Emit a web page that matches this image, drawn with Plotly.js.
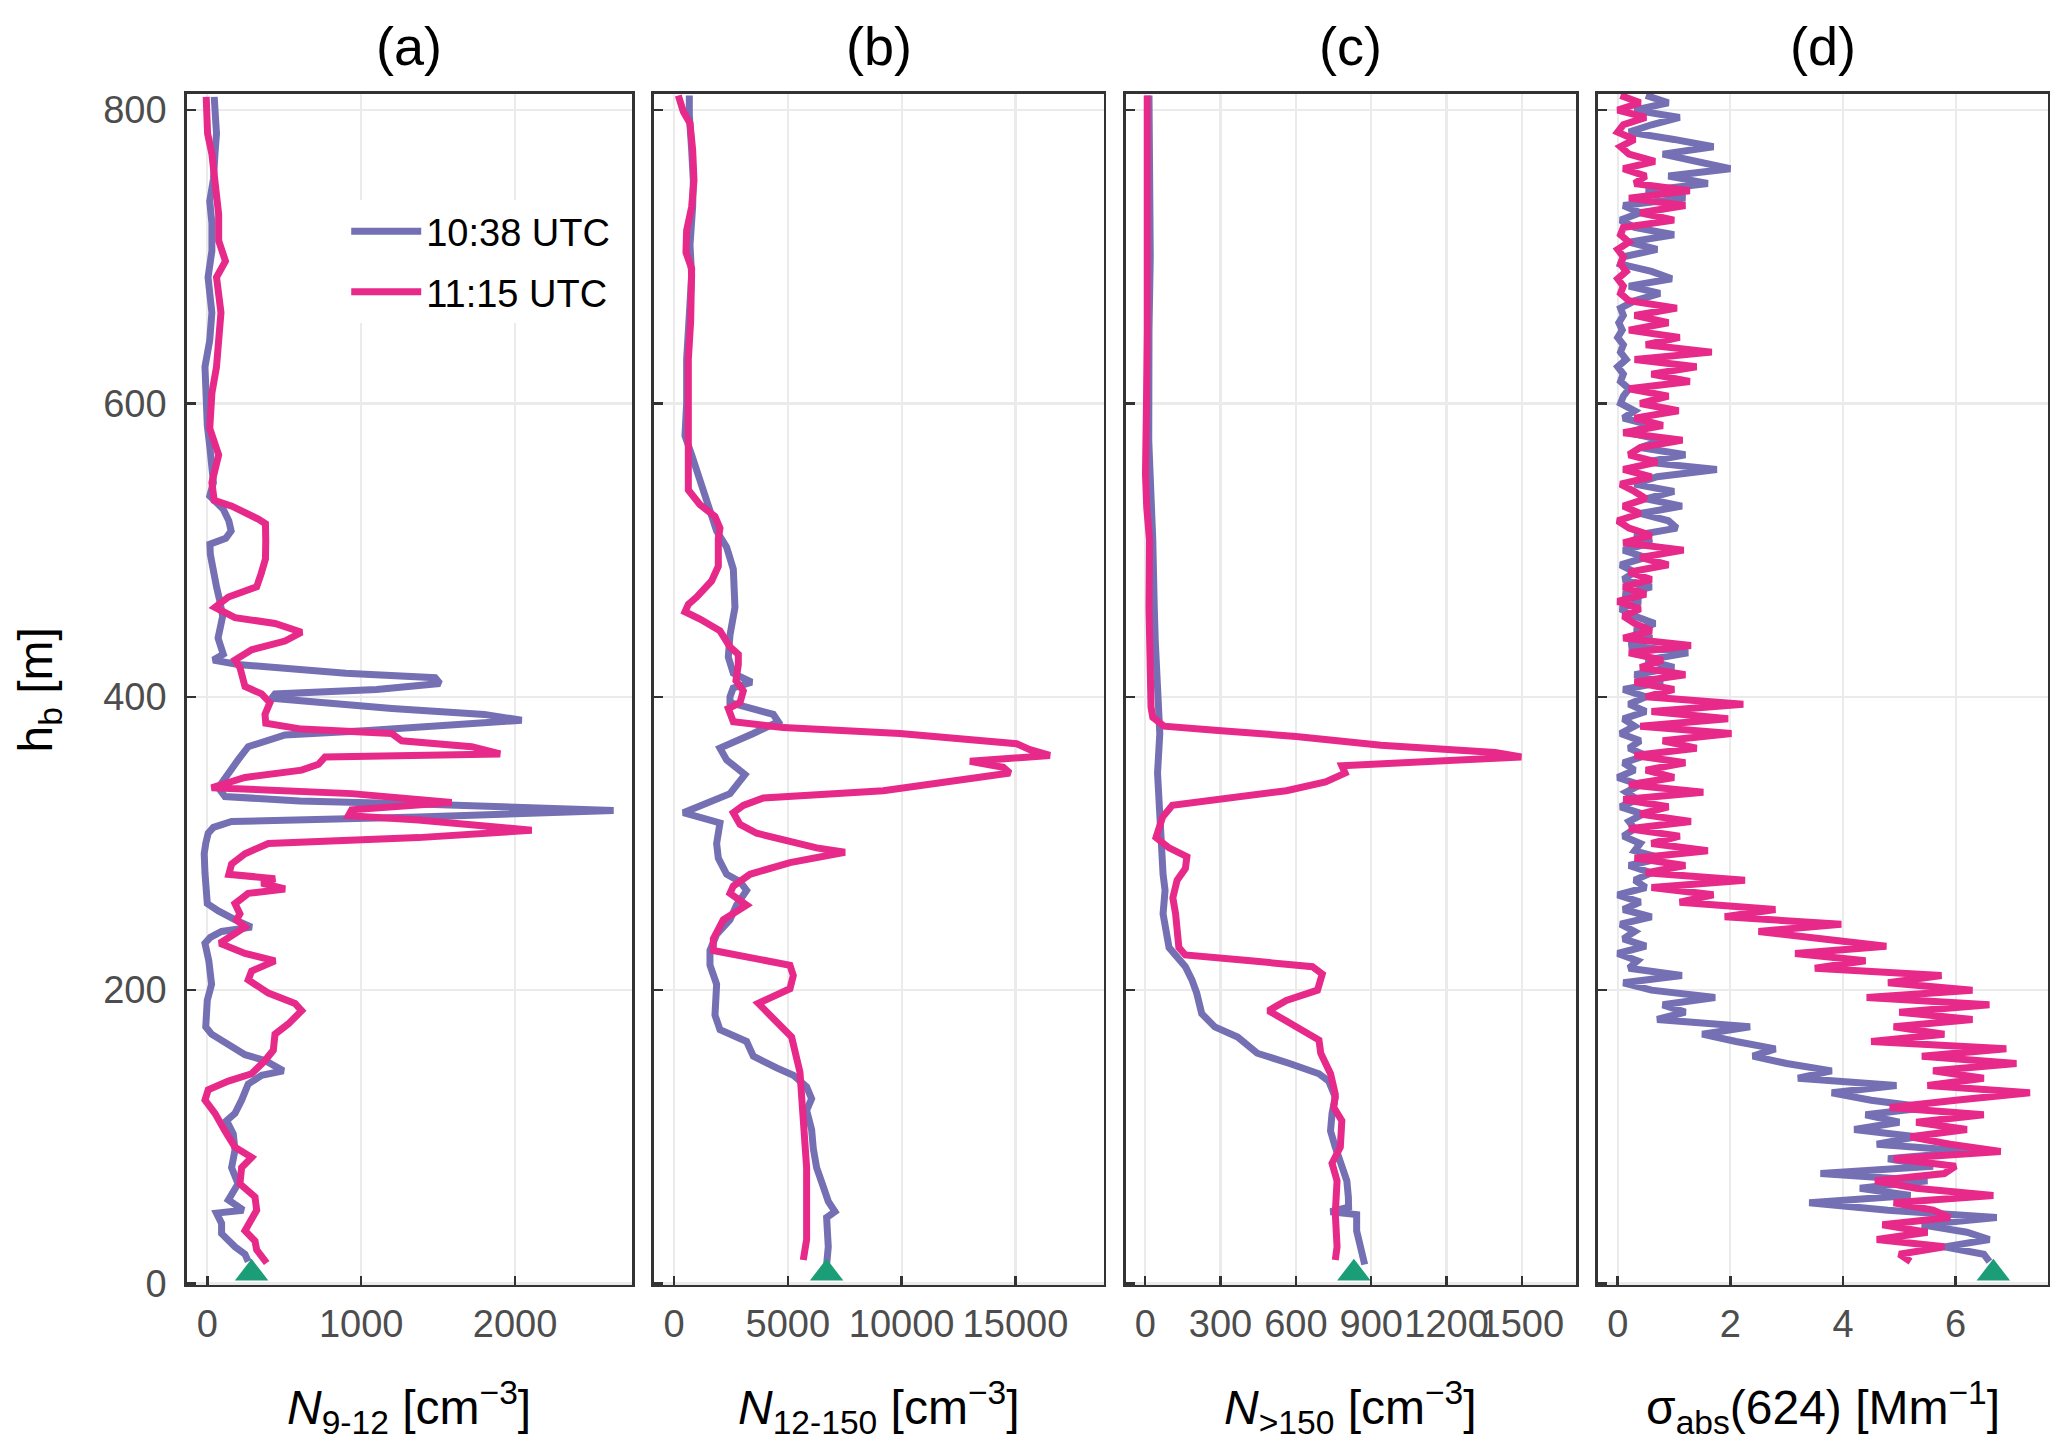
<!DOCTYPE html>
<html>
<head>
<meta charset="utf-8">
<script src="https://cdn.plot.ly/plotly-3.0.1.min.js"></script>
<style>
  html, body { margin: 0; padding: 0; background: #fff; }
  #chart { width: 2067px; height: 1450px; }
</style>
</head>
<body>
<div id="chart"></div>
<script>
// 시리즈 이름과 색
const seriesNames = ["10:38 UTC", "11:15 UTC"];
const seriesColors = ["#7570b3", "#e7298a"];
const groundColor = "#1b9e77";

// (a) N9-12
const altA1038 = [809,795,784,770,753,738,723,704,686,662,643,625,601,585,571,556,546,537,528,520,513,508,504,497,486,475,466,455,440,429,425,422,416,413,409,405,402,399,392,388,384,380,377,374,366,357,348,338,332,329,327,322.5,318,315,311,307,300,293,280,270,259,254,249,247,243,240,236,232,220,204,193,183,175,170,163,156,152,145,142,136,125,116,111,102,91,79,68,57,50,48,41,34,25,20,15];
const valA1038 = [45,55,60,50,40,16,30,30,5,30,16,-15,-12,0,16,30,40,16,103,140,155,120,17,20,35,60,80,100,70,104,39,200,900,1480,1512,1100,440,418,1200,1800,2043,1500,1047,505,266,200,137,72,115,600,1372,2640,1372,158,40,6,-10,-20,-15,-10,0,72,158,200,288,93,20,-15,10,28,0,-5,-10,28,137,245,375,494,353,266,223,180,126,169,180,158,200,137,234,60,93,93,180,245,266];
const altA1115 = [809,784,770,753,729,711,697,686,662,643,625,607,583,565,546,534,530,521,518,506,494,484,479,475,468,461,454,450,444,438,432,425,420,407,402,396,388,382,378,375,370,366,361,359,354,350,345,338,334,328,323,319,316,309,304,300,293,286,279,276,273,269,266,259,252,248,243,232,225,220,213,207,198,191,186,177,170,159,152,143,138,132,125,116,104,93,86,79,68,59,50,43,36,29,23,14];
const valA1115 = [-7,2,30,45,74,74,118,60,89,74,60,30,16,74,30,45,160,334,378,380,378,350,334,321,137,50,180,440,613,505,288,180,212,245,353,407,375,380,613,1198,1263,1718,1903,765,722,613,245,28,938,1588,938,917,1372,2108,1372,397,245,158,140,440,353,505,266,180,212,190,245,82,245,440,288,266,397,570,613,527,440,429,375,288,137,6,-15,50,115,180,288,223,212,310,321,288,245,310,321,386];

// (b) N12-150
const altB1038 = [810,797,773,752,734,708,687,656,630,600,578,565,552,531,513,502,487,461,442,427,416,410,406,400,396,388,383,375,365,357,347,334,326,321,314,300,290,279,274,268,258,248,238,227,217,204,183,173,165,155,147,142,134,126,118,105,92,79,66,56,49,45,25,12];
const valB1038 = [673,673,776,849,820,703,776,673,556,556,483,776,1069,1508,1874,2313,2606,2679,2460,2386,2606,3411,2600,2460,2460,4363,4582,3484,2020,2313,3118,2460,1288,410,2020,1874,1947,2313,2899,3191,2752,2460,1874,1581,1581,1874,1801,2020,3191,3484,4509,5241,5827,6046,5827,6046,6120,6266,6559,6778,7071,6705,6778,6700];
const altB1115 = [810,799,791,773,752,734,718,703,692,682,656,630,600,565,541,531,523,515,508,489,479,468,463,458,453,445,434,429,422,411,404,396,392,383,379,375,368,364,360,356,352,348,342,336,331,326,321,313,307,303,297,294,287,279,271,266,258,248,235,227,222,217,210,201,191,180,168,144,131,105,79,53,30,16];
const valB1115 = [190,410,703,820,878,776,556,527,776,776,732,630,630,586,630,1142,1801,2020,1947,1947,1654,996,630,483,1142,2020,2460,2826,2826,2723,3045,2899,2386,2606,4802,9926,15050,15636,16514,13000,14464,14757,12122,9194,3924,3045,2606,2899,3631,4656,6266,7510,5095,3338,2606,2460,3191,2167,1728,1728,3338,5095,5241,5095,3704,4363,5168,5534,5607,5754,5827,5827,5827,5680];

// (c) N>150
const altC1038 = [810,750,700,650,600,575,507,484,461,438,416,393,375,348,325,302,279,268,252,229,216,207,198,184,175,168,161,157,150,143,138,127,116,104,93,82,70,59,52,49,47,36,25,13];
const valC1038 = [15,20,20,15,12,14,30,36,36,40,45,53,58,49,56,58,71,79,71,95,160,186,205,225,277,368,413,446,575,692,731,757,744,738,757,777,803,809,810,738,842,842,855,874];
const altC1115 = [810,750,700,650,600,575,552,529,507,461,438,416,393,386,380,377,373,367,362,359,355,353,348,342,336,330,326,318,304,297,291,283,275,263,252,229,224,220,216,211,200,193,186,179,173,166,157,143,129,120,111,93,82,70,48,25,16];
const valC1115 = [8,10,12,8,5,0,1,6,17,15,17,23,23,30,75,290,601,939,1394,1498,939,783,796,718,562,290,108,69,43,95,166,160,127,110,121,134,160,420,666,705,686,562,491,562,627,692,699,738,757,751,783,777,744,764,757,764,757];

// (d) sigma_abs(624), 5 m 간격
const altD = [810,805,800,795,790,785,780,775,770,765,760,755,750,745,740,735,730,725,720,715,710,705,700,695,690,685,680,675,670,665,660,655,650,645,640,635,630,625,620,615,610,605,600,595,590,585,580,575,570,565,560,555,550,545,540,535,530,525,520,515,510,505,500,495,490,485,480,475,470,465,460,455,450,445,440,435,430,425,420,415,410,405,400,395,390,385,380,375,370,365,360,355,350,345,340,335,330,325,320,315,310,305,300,295,290,285,280,275,270,265,260,255,250,245,240,235,230,225,220,215,210,205,200,195,190,185,180,175,170,165,160,155,150,145,140,135,130,125,120,115,110,105,100,95,90,85,80,75,70,65,60,55,50,45,40,35,30,25,20,15];
const valD1038 = [0.5,0.9,0.3,1.1,0.6, 0.2,1.0,1.7,0.8, 1.4,2.0,0.9, 1.6,0.5,1.2, 0.1,0.4,0.05,0.3, 1.0,0.2,0.7, 0.1,0.05, 0.6,0.96,0.2,0.75,0.3, 0.05,0.1,0.02,0.08,0.0,0.1,0.05,0.15,0.0,0.1,0.05,0.2,0.1,0.05, 0.3,0.1,0.6,0.2,0.8,0.4,1.2,0.5, 1.76,0.7,0.3,1.0,0.5,1.14,0.4,0.9, 1.05,0.3,0.6, 0.1,0.5,0.05,0.3,0.1, 0.6,0.1,0.4,0.05,0.3, 0.66,0.3,0.6, 0.2,1.25,0.5,1.0,0.3,0.8,0.1,0.5, 0.2,0.5,0.1,0.3,0.05,0.4,0.2,0.5,0.1,0.3,0.0,0.4,0.15,0.35,0.05,0.45,0.2,0.3,0.1,0.4, 0.3,0.78,0.2,0.6,0.3,0.5, 0.0,0.4,0.1,0.6,0.05,0.3,0.1,0.5,0.0,0.35,0.2, 1.14,0.1,0.6, 1.73,0.8,1.2, 0.7,2.35,1.5, 2.1,2.8,2.4, 3.0,3.8,3.2, 4.95,3.8,4.5, 5.5,4.4,5.0, 4.2,5.3,4.6, 6.3,4.8,5.6, 3.6,5.5,4.3, 5.2,3.4,4.8, 6.73,5.4,6.2, 6.6,5.8,6.5, 6.6];
const valD1115 = [0.05,0.4,0.0,0.5,0.1, 0.0,0.3,0.05,0.2, 0.66,0.1,0.5, 0.3,1.28,0.2, 1.2,0.4,1.0,0.1, 0.05,0.2,0.0, 0.1,0.05, 0.15,0.0,0.1,0.05,0.2, 1.05,0.3,0.9,0.2,1.1,0.5,1.67,0.3,1.4,0.6,1.28,0.2,0.9,0.4, 1.08,0.3,0.8,0.1,1.15,0.4,0.2,0.7, 0.1,0.6,0.05,0.3,0.5,0.1,0.4,0.0, 0.2,0.6,0.1, 1.17,0.4,0.9,0.2,0.6, 0.1,0.5,0.0,0.4,0.1, 0.3,0.6,0.1, 1.3,0.2,0.8,0.4,1.2,0.3,1.0,0.5, 2.23,0.6,1.96,0.4,2.02,0.8,1.4,0.3,1.2,0.5,1.0,0.2,1.52,0.1,0.9,0.4,1.3,0.2,1.1,0.6, 1.6,0.3,1.2,0.5,2.26,0.6, 1.7,1.1,2.8,1.9,3.97,2.5,3.6,4.77,3.15,4.4,3.5, 5.75,4.8,6.3, 4.42,6.6,5.0, 6.3,4.9,5.8, 4.5,6.9,5.4, 7.08,5.6,6.5, 5.5,7.32,6.0, 4.83,6.5,5.3, 6.2,5.2,5.9, 6.8,4.9,6.0, 5.8,4.57,5.3, 6.67,4.9,5.6, 5.9,4.7,5.5, 4.6,5.8,5.0, 5.2];

// 지상 측정값 (초록 삼각형)
const groundVals = [288, 6705, 831, 6.67];
const groundAlt = [7, 7, 7, 7];

// 패널 설정
const panelLabels = ["(a)", "(b)", "(c)", "(d)"];
const xTitles = [
  "<i>N</i><sub>9-12</sub> [cm<sup>\u22123</sup>]",
  "<i>N</i><sub>12-150</sub> [cm<sup>\u22123</sup>]",
  "<i>N</i><sub>>150</sub> [cm<sup>\u22123</sup>]",
  "\u03c3<sub>abs</sub>(624) [Mm<sup>\u22121</sup>]"
];
const xTicks = [[0, 1000, 2000], [0, 5000, 10000, 15000], [0, 300, 600, 900, 1200, 1500], [0, 2, 4, 6]];
const xTickText = [["0", "1000", "2000"], ["0", "5000", "10000", "15000"], ["0", "300", "600", "900", "1200", "1500"], ["0", "2", "4", "6"]];
const xRanges = [[-134, 2760], [-878, 18890], [-77, 1716], [-0.35, 7.64]];
const xDomains = [[0.0903, 0.3058], [0.3164, 0.5341], [0.5447, 0.7625], [0.7731, 0.9908]];
const yTicks = [0, 200, 400, 600, 800];

const panels = [
  [[altA1038, valA1038], [altA1115, valA1115]],
  [[altB1038, valB1038], [altB1115, valB1115]],
  [[altC1038, valC1038], [altC1115, valC1115]],
  [[altD, valD1038], [altD, valD1115]]
];

const FONT = "Liberation Sans, Arial, sans-serif";
const traces = [];
const layout = {
  width: 2067,
  height: 1450,
  margin: { l: 0, r: 0, t: 0, b: 0 },
  paper_bgcolor: "#ffffff",
  plot_bgcolor: "#ffffff",
  font: { family: FONT, color: "#000000" },
  showlegend: true,
  legend: {
    x: 0.1675, y: 0.862, xanchor: "left", yanchor: "top",
    bgcolor: "#ffffff", borderwidth: 0,
    font: { size: 38, color: "#000000", family: FONT },
    itemwidth: 70,
    tracegroupgap: 8
  },
  annotations: []
};

panels.forEach((pair, i) => {
  const sfx = i === 0 ? "" : String(i + 1);
  const xa = "x" + sfx, ya = "y" + sfx;

  pair.forEach((s, k) => {
    traces.push({
      x: s[1], y: s[0], xaxis: xa, yaxis: ya,
      type: "scatter", mode: "lines",
      name: seriesNames[k],
      legendgroup: "g" + k,
      showlegend: i === 0,
      line: { color: seriesColors[k], width: 7 },
      hoverinfo: "skip"
    });
  });
  traces.push({
    x: [groundVals[i]], y: [groundAlt[i]], xaxis: xa, yaxis: ya,
    type: "scatter", mode: "markers", showlegend: false,
    marker: { symbol: "triangle-up", size: 29, color: groundColor },
    cliponaxis: false, hoverinfo: "skip"
  });

  const common = {
    showline: true, mirror: true, linecolor: "#333333", linewidth: 2.5,
    ticks: "inside", ticklen: 9, tickwidth: 2.5, tickcolor: "#333333",
    showgrid: true, gridcolor: "#ebebeb", gridwidth: 2.2,
    zeroline: false, fixedrange: true,
    tickfont: { size: 38, color: "#4d4d4d", family: FONT }
  };
  layout["xaxis" + sfx] = Object.assign({}, common, {
    domain: xDomains[i], range: xRanges[i], anchor: ya,
    tickmode: "array", tickvals: xTicks[i], ticktext: xTickText[i], tickangle: 0,
    ticklabelstandoff: 4
  });
  layout["yaxis" + sfx] = Object.assign({}, common, {
    domain: [0.1138, 0.9352], range: [-1, 811], anchor: xa,
    tickmode: "array", tickvals: yTicks,
    showticklabels: i === 0, ticklabelstandoff: 10
  });

  const cx = (xDomains[i][0] + xDomains[i][1]) / 2;
  layout.annotations.push({
    text: panelLabels[i], xref: "paper", yref: "paper", x: cx, y: 0.968,
    xanchor: "center", yanchor: "middle", showarrow: false,
    font: { size: 54, color: "#000000", family: FONT }
  });
  layout.annotations.push({
    text: xTitles[i], xref: "paper", yref: "paper", x: cx, y: 0.029,
    xanchor: "center", yanchor: "middle", showarrow: false,
    font: { size: 48, color: "#000000", family: FONT }
  });
});

layout.annotations.push({
  text: "h<sub>b</sub> [m]", xref: "paper", yref: "paper", x: 0.019, y: 0.524,
  xanchor: "center", yanchor: "middle", textangle: -90, showarrow: false,
  font: { size: 48, color: "#000000", family: FONT }
});

Plotly.newPlot("chart", traces, layout, { displayModeBar: false, staticPlot: true });
</script>
</body>
</html>
